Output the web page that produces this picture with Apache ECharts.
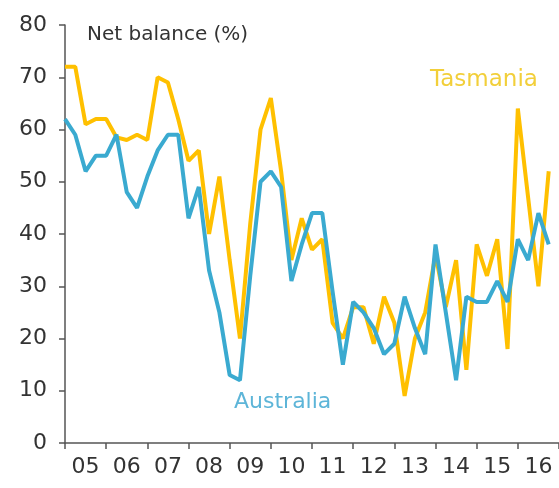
<!DOCTYPE html>
<html>
<head>
<meta charset="utf-8">
<script src="https://cdn.jsdelivr.net/npm/echarts@6/dist/echarts.min.js"></script>
<style>
  html, body { margin: 0; padding: 0; background: #fff; }
  #main { width: 559px; height: 488px; }
</style>
</head>
<body>
<div id="main"></div>
<script>
// year labels on the x axis
var years = ['05', '06', '07', '08', '09', '10', '11', '12', '13', '14', '15', '16'];
// quarterly net balance, 2005 Q1 .. 2016 Q4
var tasmania = [72, 72, 61, 62, 62, 58.5, 58, 59, 58, 70, 69, 62,
                54, 56, 40, 51, 35, 20, 42, 60, 66, 52, 35, 43,
                37, 39, 23, 20, 26, 26, 19, 28, 23, 9, 20, 25,
                36, 26, 35, 14, 38, 32, 39, 18, 64, 47, 30, 52];
var australia = [62, 59, 52, 55, 55, 59, 48, 45, 51, 56, 59, 59,
                 43, 49, 33, 25, 13, 12, 32, 50, 52, 49, 31, 38,
                 44, 44, 29, 15, 27, 25, 22, 17, 19, 28, 22, 17,
                 38, 25, 12, 28, 27, 27, 31, 27, 39, 35, 44, 38];
var startYear = 2005;

function toPoints(arr) {
    var out = [];
    for (var i = 0; i < arr.length; i++) {
        out.push([startYear + i / 4, arr[i]]);
    }
    return out;
}

var font = 'DejaVu Sans';
var myChart = echarts.init(document.getElementById('main'));
myChart.setOption({
    backgroundColor: '#fff',
    animation: false,
    title: {
        text: 'Net balance (%)',
        left: 82,
        top: 20,
        textStyle: { fontFamily: font, fontSize: 20, fontWeight: 'normal', color: '#333' }
    },
    grid: { left: 65, right: 0, top: 25, bottom: 45 },
    xAxis: [
        {
            type: 'category',
            data: years,
            boundaryGap: true,
            axisLine: { lineStyle: { color: '#555', width: 1.5 } },
            axisTick: { show: true, length: 6, lineStyle: { color: '#555', width: 1.5 } },
            axisLabel: { fontFamily: font, fontSize: 22, color: '#333', margin: 13 },
            splitLine: { show: false }
        },
        {
            type: 'value',
            min: startYear,
            max: startYear + years.length,
            show: false,
            splitLine: { show: false }
        }
    ],
    yAxis: {
        type: 'value',
        min: 0,
        max: 80,
        interval: 10,
        axisLine: { show: true, lineStyle: { color: '#555', width: 1.5 } },
        axisTick: { show: true, length: 6, lineStyle: { color: '#555', width: 1.5 } },
        axisLabel: { fontFamily: font, fontSize: 22, color: '#333', margin: 18 },
        splitLine: { show: false }
    },
    series: [
        {
            name: 'Tasmania',
            type: 'line',
            xAxisIndex: 1,
            data: toPoints(tasmania),
            showSymbol: false,
            lineStyle: { color: '#FFC000', width: 4 },
            itemStyle: { color: '#FFC000' }
        },
        {
            name: 'Australia',
            type: 'line',
            xAxisIndex: 1,
            data: toPoints(australia),
            showSymbol: false,
            lineStyle: { color: '#3AAAD0', width: 4 },
            itemStyle: { color: '#3AAAD0' }
        }
    ],
    graphic: [
        {
            type: 'text',
            left: 430,
            top: 69,
            style: { text: 'Tasmania', fill: '#F2CF3A', font: '23px "DejaVu Sans"' }
        },
        {
            type: 'text',
            left: 234,
            top: 391,
            style: { text: 'Australia', fill: '#5DB5D8', font: '22px "DejaVu Sans"' }
        }
    ]
});
</script>
</body>
</html>
